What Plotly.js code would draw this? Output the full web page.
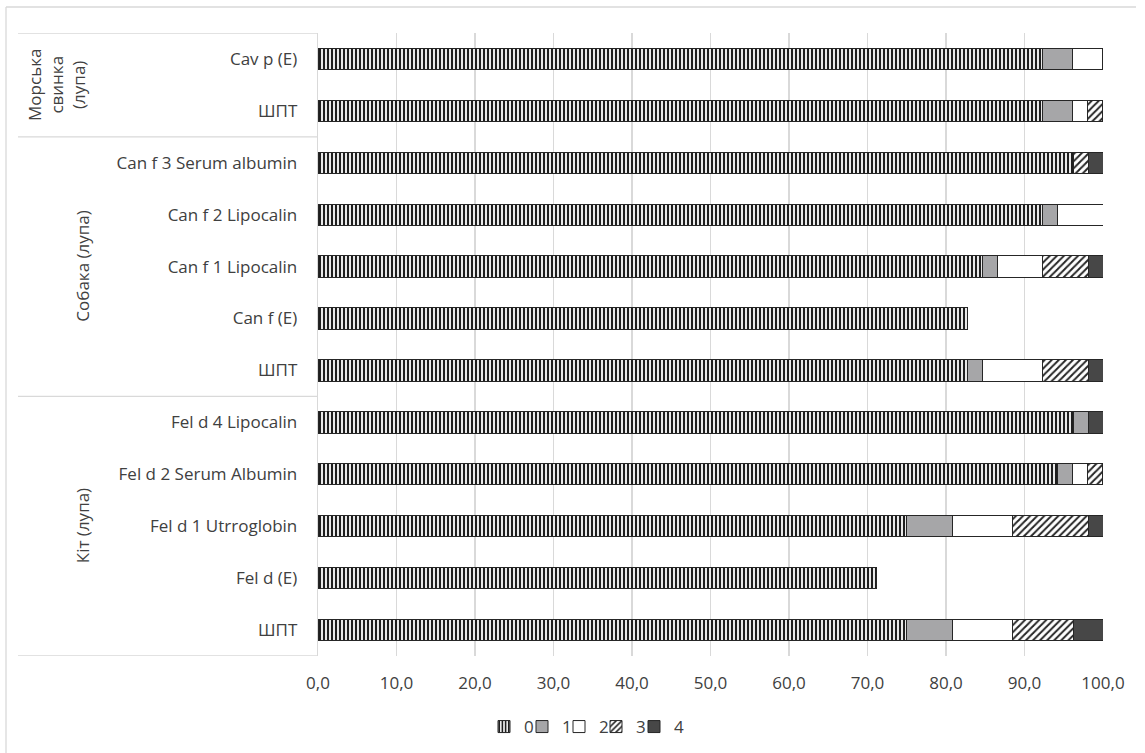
<!DOCTYPE html>
<html>
<head>
<meta charset="utf-8">
<script src="https://cdn.plot.ly/plotly-3.0.1.min.js"></script>
<style>
  html, body { margin: 0; padding: 0; background: #ffffff; }
  #chart { width: 1145px; height: 753px; }
</style>
</head>
<body>
<div id="chart"></div>
<script>
// Row labels, top to bottom
const rowLabels = [
  'Cav p (E)', 'ШПТ',
  'Can f 3 Serum albumin', 'Can f 2 Lipocalin', 'Can f 1 Lipocalin', 'Can f (E)', 'ШПТ',
  'Fel d 4 Lipocalin', 'Fel d 2 Serum Albumin', 'Fel d 1 Utrroglobin', 'Fel d (E)', 'ШПТ'
];

// Groups of rows: label and first/last row index
const groupNames = ['Морська<br>свинка<br>(лупа)', 'Собака (лупа)', 'Кіт (лупа)'];
const groupStart = [0, 2, 7];
const groupEnd = [1, 6, 11];

// Share (%) of each grade per row
const seriesNames = ['0', '1', '2', '3', '4'];
const grade0 = [92.3, 92.3, 96.2, 92.3, 84.6, 82.7, 82.7, 96.2, 94.2, 75.0, 71.2, 75.0];
const grade1 = [3.8, 3.8, 0, 1.9, 1.9, 0, 1.9, 1.9, 1.9, 5.8, 0, 5.8];
const grade2 = [3.8, 1.9, 0, 5.8, 5.8, 0, 7.7, 0, 1.9, 7.7, 0, 7.7];
const grade3 = [0, 1.9, 1.9, 0, 5.8, 0, 5.8, 0, 1.9, 9.6, 0, 7.7];
const grade4 = [0, 0, 1.9, 0, 1.9, 0, 1.9, 1.9, 0, 1.9, 0, 3.8];

const xTicks = [0, 10, 20, 30, 40, 50, 60, 70, 80, 90, 100];

const rowPos = rowLabels.map((_, i) => i);
const outline = { color: '#262626', width: 1 };

const styles = [
  { color: '#ffffff', pattern: { shape: '|', fgcolor: '#1e1e1e', bgcolor: '#ffffff', size: 4, solidity: 0.55, fillmode: 'replace' } },
  { color: '#a6a6a8' },
  { color: '#ffffff' },
  { color: '#ffffff', pattern: { shape: '/', fgcolor: '#262626', bgcolor: '#ffffff', size: 5, solidity: 0.4, fillmode: 'replace' } },
  { color: '#474747' }
];

const values = [grade0, grade1, grade2, grade3, grade4];

// Layout geometry of the plot area, in pixels
const W = 1145, H = 753;
const mL = 318, mR = 42, mT = 33, mB = 97;
const pw = W - mL - mR, ph = H - mT - mB;
const px = p => (p - mL) / pw;
const py = q => (H - mB - q) / ph;

const gridColor = '#d9d9d9';
const textColor = '#404040';
const font = { family: '"Open Sans", sans-serif', size: 17, color: textColor };

// each series gets its own one-entry legend so the entries sit close together
const legendIds = ['legend', 'legend2', 'legend3', 'legend4', 'legend5'];
const legendLeft = [484, 522, 559, 596, 634];

const traces = values.map((vals, k) => ({
  type: 'bar',
  orientation: 'h',
  name: seriesNames[k],
  x: vals,
  y: rowPos,
  width: 0.41,
  marker: Object.assign({ line: outline }, styles[k]),
  legend: legendIds[k],
  hoverinfo: 'skip'
}));

const shapes = [];
// separators of the grouped category labels
const seps = [-0.5].concat(groupEnd.map(e => e + 0.5));
seps.forEach(s => shapes.push({
  type: 'line', xref: 'paper', yref: 'y', x0: px(18), x1: 0, y0: s, y1: s,
  line: { color: gridColor, width: 1.3 }
}));
// outer chart frame (top and left edges)
shapes.push({ type: 'line', xref: 'paper', yref: 'paper', x0: px(6), x1: px(1136), y0: py(7), y1: py(7), line: { color: gridColor, width: 1.3 } });
shapes.push({ type: 'line', xref: 'paper', yref: 'paper', x0: px(6), x1: px(6), y0: py(7), y1: py(760), line: { color: gridColor, width: 1.3 } });

const groupX = [57, 83, 82];
const annotations = groupNames.map((g, i) => ({
  xref: 'paper', yref: 'y',
  x: px(groupX[i]), y: (groupStart[i] + groupEnd[i]) / 2,
  xanchor: 'center', yanchor: 'middle',
  text: g, textangle: -90, showarrow: false,
  font: font, align: 'center'
}));

const layout = {
  width: W, height: H,
  margin: { l: mL, r: mR, t: mT, b: mB, pad: 0, autoexpand: false },
  paper_bgcolor: '#ffffff', plot_bgcolor: '#ffffff',
  barmode: 'stack',
  separators: ', ',
  font: font,
  showlegend: true,
  xaxis: {
    range: [0, 100], tickvals: xTicks, tickformat: '.1f',
    showgrid: true, gridcolor: gridColor, gridwidth: 1.3,
    zeroline: false, showline: false, ticks: '',
    ticklabelstandoff: 15, tickfont: font, fixedrange: true
  },
  yaxis: {
    range: [rowLabels.length - 0.5, -0.5],
    tickvals: rowPos, ticktext: rowLabels,
    showgrid: false, zeroline: false,
    showline: true, linecolor: gridColor, linewidth: 1.3,
    ticks: '', ticklabelstandoff: 16, tickfont: font, fixedrange: true
  },
  shapes: shapes,
  annotations: annotations
};

legendIds.forEach((id, k) => {
  layout[id] = {
    orientation: 'h', xref: 'container', yref: 'container',
    x: legendLeft[k] / W, xanchor: 'left',
    y: 1 - 727 / H, yanchor: 'middle', font: font, itemwidth: 30,
    bgcolor: 'rgba(0,0,0,0)', borderwidth: 0
  };
});

Plotly.newPlot('chart', traces, layout, { displayModeBar: false, staticPlot: true });
</script>
</body>
</html>
